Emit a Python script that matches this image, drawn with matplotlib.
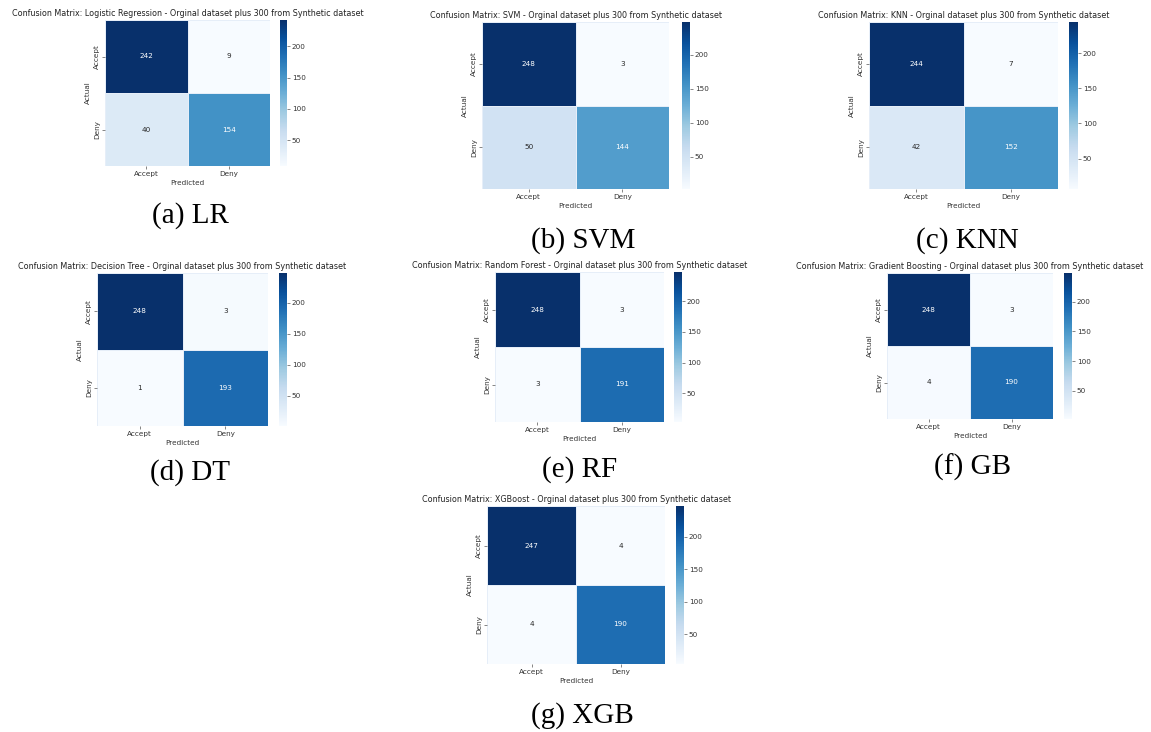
import numpy as np
import matplotlib
matplotlib.use("Agg")
import matplotlib.pyplot as plt
import seaborn as sns

W, H = 1151, 732

labels = ["Accept", "Deny"]

lr = [[242, 9], [40, 154]]
svm = [[248, 3], [50, 144]]
knn = [[244, 7], [42, 152]]
dt = [[248, 3], [1, 193]]
rf = [[248, 3], [3, 191]]
gb = [[248, 3], [4, 190]]
xgb = [[247, 4], [4, 190]]

models = ["Logistic Regression", "SVM", "KNN", "Decision Tree",
          "Random Forest", "Gradient Boosting", "XGBoost"]
captions = ["(a) LR", "(b) SVM", "(c) KNN", "(d) DT", "(e) RF", "(f) GB", "(g) XGB"]
matrices = [lr, svm, knn, dt, rf, gb, xgb]

# pixel boxes: heatmap (x0, y0, x1, y1), colorbar x0, x1, caption (x, y)
heat_boxes = [(105, 20, 270, 166), (482, 22, 669, 189), (869, 22, 1058, 189),
              (97, 273, 268, 426), (495, 272, 664, 422), (887, 273, 1053, 419),
              (487, 506, 665, 664)]
cbar_x = [(280, 287), (682, 690), (1069, 1078), (279, 287), (674, 682),
          (1064, 1072), (676, 684)]
cap_pos = [(190, 216), (583, 241), (967, 241), (190, 473), (580, 470),
           (973, 467), (582, 716)]


def px(x0, y0, x1, y1):
    return [x0 / W, 1 - y1 / H, (x1 - x0) / W, (y1 - y0) / H]


fig = plt.figure(figsize=(W / 100, H / 100), dpi=100)
fs = 5.2

for i in range(len(matrices)):
    x0, y0, x1, y1 = heat_boxes[i]
    cx0, cx1 = cbar_x[i]
    ax = fig.add_axes(px(x0, y0, x1, y1))
    cax = fig.add_axes(px(cx0, y0, cx1, y1))
    cm = np.array(matrices[i])
    sns.heatmap(cm, annot=True, fmt="d", cmap="Blues", linewidths=0.5,
                linecolor="#e6eef8", xticklabels=labels, yticklabels=labels,
                ax=ax, cbar_ax=cax, annot_kws={"size": fs})
    ax.set_xlabel("Predicted", fontsize=fs, labelpad=2, color="#333333")
    ax.set_ylabel("Actual", fontsize=fs, labelpad=2, color="#333333")
    ax.tick_params(labelsize=fs, length=2, width=0.5, pad=1.5,
                   colors="#555555", labelcolor="#333333")
    ax.set_yticklabels(labels, rotation=90, va="center")
    ax.set_title("Confusion Matrix: " + models[i] + " - Orginal dataset plus 300 from Synthetic dataset",
                 fontsize=5.8, pad=3, color="#222222")
    cax.tick_params(labelsize=fs, length=2, width=0.5, pad=1.5,
                    colors="#555555", labelcolor="#333333")
    fig.text(cap_pos[i][0] / W, 1 - cap_pos[i][1] / H, captions[i],
             family="Liberation Serif", fontsize=21, ha="center", va="center")

fig.savefig("out.png", dpi=100)
